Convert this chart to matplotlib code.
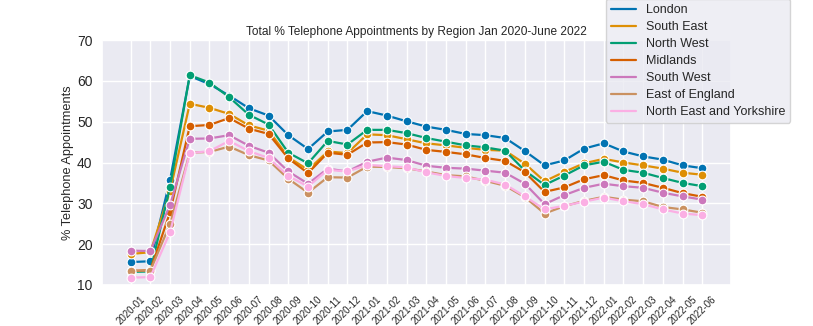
import numpy as np
import matplotlib.pyplot as plt
import seaborn as sns

# Monthly % telephone appointments per region
months = ['2020-01', '2020-02', '2020-03', '2020-04', '2020-05', '2020-06',
          '2020-07', '2020-08', '2020-09', '2020-10', '2020-11', '2020-12',
          '2021-01', '2021-02', '2021-03', '2021-04', '2021-05', '2021-06',
          '2021-07', '2021-08', '2021-09', '2021-10', '2021-11', '2021-12',
          '2022-01', '2022-02', '2022-03', '2022-04', '2022-05', '2022-06']

london = [15.6, 15.8, 35.7, 61.2, 59.2, 56.4, 53.3, 51.5, 46.7, 43.3, 47.6, 48.0,
          52.6, 51.5, 50.1, 48.8, 48.0, 47.0, 46.7, 46.0, 42.8, 39.3, 40.5, 43.4,
          44.7, 42.7, 41.5, 40.7, 39.3, 38.6]
south_east = [17.6, 18.0, 33.0, 54.4, 53.4, 51.9, 49.1, 47.8, 41.3, 38.2, 42.7, 42.3,
              46.9, 46.7, 45.7, 44.7, 44.2, 43.6, 43.1, 42.9, 39.7, 35.4, 37.7, 39.8,
              40.9, 40.0, 39.3, 38.5, 37.5, 37.0]
north_west = [13.2, 13.3, 34.0, 61.4, 59.6, 56.0, 51.7, 49.3, 42.4, 39.8, 45.3, 44.4,
              48.0, 48.0, 47.2, 46.0, 45.1, 44.2, 43.7, 42.9, 38.0, 34.5, 36.8, 39.3,
              40.2, 38.2, 37.5, 36.2, 35.0, 34.2]
midlands = [13.4, 13.6, 27.8, 48.9, 49.2, 50.9, 48.3, 47.0, 41.0, 37.4, 42.4, 41.9,
            44.9, 45.0, 44.4, 43.1, 42.6, 42.0, 41.1, 40.4, 37.6, 32.8, 33.9, 35.9,
            36.9, 35.6, 35.0, 33.8, 32.5, 31.6]
south_west = [18.4, 18.3, 29.6, 45.8, 45.9, 46.7, 44.1, 42.4, 37.8, 34.8, 38.5, 37.8,
              40.2, 41.2, 40.6, 39.2, 38.7, 38.5, 38.0, 37.5, 34.8, 29.8, 32.0, 33.8,
              34.8, 34.2, 33.8, 32.6, 31.7, 30.9]
east_of_england = [13.5, 13.5, 24.9, 42.4, 42.6, 43.9, 41.8, 40.5, 36.0, 32.6, 36.4, 36.3,
                   39.0, 38.9, 38.6, 37.8, 36.9, 36.6, 35.5, 34.3, 31.5, 27.5, 29.3, 30.6,
                   31.6, 30.9, 30.5, 29.1, 28.5, 27.7]
ne_yorkshire = [11.8, 11.9, 22.9, 42.3, 42.8, 45.3, 42.8, 41.1, 36.7, 34.1, 38.2, 37.8,
                39.4, 39.1, 38.8, 37.6, 36.7, 36.2, 35.8, 34.6, 31.7, 28.5, 29.4, 30.4,
                31.4, 30.5, 29.8, 28.5, 27.5, 27.1]

regions = ['London', 'South East', 'North West', 'Midlands', 'South West',
           'East of England', 'North East and Yorkshire']
series = [london, south_east, north_west, midlands, south_west,
          east_of_england, ne_yorkshire]

sns.set_theme(style='darkgrid')
plt.rcParams['font.family'] = ['Liberation Sans', 'DejaVu Sans']
colors = sns.color_palette('colorblind', 7)

fig = plt.figure(figsize=(8.13, 3.26), dpi=100)
ax = fig.add_axes([0.1255, 0.126, 0.7735, 0.751])

handles = []
for name, vals, c in zip(regions, series, colors):
    ax.plot(months, vals, marker='o', color=c, lw=1.6, ms=6.3,
            mec='white', mew=0.8)
    handles.append(plt.Line2D([], [], color=c, lw=1.6, label=name))

ax.set_ylim(10, 70)
ax.set_yticks([10, 20, 30, 40, 50, 60, 70])
ax.tick_params(axis='y', labelsize=10, pad=0.8)
ax.tick_params(axis='x', labelsize=7, rotation=45, pad=1)
ax.set_ylabel('% Telephone Appointments', fontsize=9.2)
ax.yaxis.set_label_coords(-0.045, 0.5)
ax.set_title('Total % Telephone Appointments by Region Jan 2020-June 2022', fontsize=8.6, pad=4)

fig.legend(handles=handles, loc='lower left', bbox_to_anchor=(0.745, 0.623), fontsize=9,
           borderaxespad=0, labelspacing=0.4)

fig.savefig('out.png', dpi=100)
